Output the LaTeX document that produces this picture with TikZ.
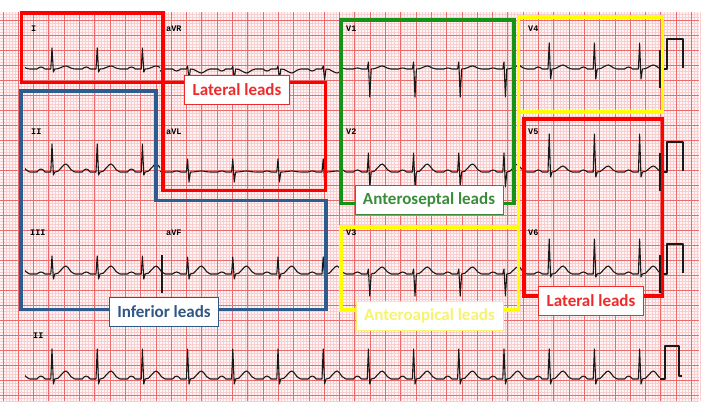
\documentclass[tikz,border=0pt]{standalone}
\usepackage{fontspec}
\setmainfont{Carlito}
\newfontfamily\leadfont{Liberation Mono}
\definecolor{paper}{HTML}{FEF6F6}
\definecolor{gridminor}{HTML}{F8CECE}
\definecolor{gridmajor}{HTML}{EE6A6A}
\definecolor{boxred}{HTML}{FF0000}
\definecolor{boxblue}{HTML}{2F5C8F}
\definecolor{boxgreen}{HTML}{169216}
\definecolor{boxyellow}{HTML}{FFFF00}
\definecolor{txtred}{HTML}{EE2A2A}
\definecolor{txtblue}{HTML}{2F5685}
\definecolor{txtgreen}{HTML}{3A8C3A}
\definecolor{txtyellow}{HTML}{F6F370}

\begin{document}
\begin{tikzpicture}[x=1pt,y=-1pt,
        trace/.style={draw=black!90,line width=1.1pt,line join=round},
        region/.style={line width=3.6pt,line join=miter},
        tag/.style={draw=#1,fill=white,text=#1,line width=0.6pt,
            font=\fontsize{17}{17}\selectfont\bfseries,minimum height=29pt,inner xsep=8pt},
        leadname/.style={anchor=west,inner sep=0pt,font=\leadfont\fontsize{8.5}{8.5}\selectfont\bfseries},
        pics/beat/.style n args={4}{code={
            \draw[trace] (-22.6,0) -- (-15,0) -- (-13,{-0.7*(#1)}) -- (-11,{-(#1)}) -- (-9,{-0.7*(#1)}) -- (-7,0)
                -- (-1.2,0) -- (0,{-(#2)}) -- (1.4,{#3}) -- (2.8,0) -- (6,{-0.1*(#4)}) -- (9,{-0.5*(#4)})
                -- (12,{-0.9*(#4)}) -- (14,{-(#4)}) -- (16,{-0.8*(#4)}) -- (19,{-0.3*(#4)}) -- (22.6,0);}}]
        \useasboundingbox[fill=white] (0,0) rectangle (706,418);
        % ECG paper
        \fill[paper] (0,12) rectangle (699,401);
        \foreach \i in {0,...,228}
            \draw[gridminor,line width=0.45pt] ({3+3.06*\i},12) -- ({3+3.06*\i},401);
        \foreach \j in {-2,...,127}
            \draw[gridminor,line width=0.45pt] (0,{20+3*\j}) -- (699,{20+3*\j});
        \foreach \i in {0,...,45}
            \draw[gridmajor,line width=1pt] ({3+15.3*\i},12) -- ({3+15.3*\i},401);
        \foreach \j in {0,...,25}
            \draw[gridmajor,line width=1pt] (0,{20+15*\j}) -- (699,{20+15*\j});
        % leads: left/right/baseline/P/R/S/T
        \foreach \lx/\rx/\base/\pamp/\ramp/\samp/\tamp in {
                25/160/69/2/21/3/3, 160/340/69/-2/3/11/-4, 340/518/69/1/7/28/3, 518/660/69/2/26/10/4,
                25/160/172/3/28/3/8, 160/340/172/1/13/10/1, 340/518/172/2/19/15/8, 518/660/172/2/38/5/6,
                25/160/274/2/18/5/8, 160/340/274/2/17/5/8, 340/518/274/2/5/22/7, 518/660/274/2/35/3/8,
                25/660/379/3/30/5/8}{
            \begin{scope}
                \clip ({\lx},{\base-45}) rectangle ({\rx},{\base+35});
                \foreach \k in {-1,...,13}
                    \pic at ({52+45.2*\k},\base) {beat={\pamp}{\ramp}{\samp}{\tamp}};
            \end{scope}}
        % lead switch marks
        \foreach \mx/\base in {660/69, 660/172, 660/274, 518/69, 162/274}
            \draw[trace] (\mx,{\base-19}) -- (\mx,{\base+19});
        % calibration pulses
        \foreach \base in {69,172,274}
            \draw[trace] (660,\base) -- (667,\base) -- (667,{\base-30}) -- (683,{\base-30}) -- (683,{\base-1});
        \draw[trace] (660,379) -- (665,379) -- (665,346) -- (679,346) -- (679,376) -- (682,376);
        % lead names
        \foreach \nm/\nx/\ny in {I/31/29, aVR/166/29, V1/346/29, V4/528/29,
                II/31/132, aVL/166/132, V2/346/132, V5/528/132,
                III/30/233, aVF/166/233, V3/346/233, V6/528/233, II/33/336}
            \node[leadname] (n\nm\ny) at (\nx,\ny) {\nm};
        % lead groups
        \draw[region,boxred] (21.5,13) rectangle (163,82.5);
        \draw[region,boxred] (163,82.5) rectangle (325.5,190.5);
        \draw[region,boxblue] (21,91) -- (156,91) -- (156,200.5) -- (326,200.5) -- (326,309.5) -- (21,309.5) -- cycle;
        \draw[region,boxgreen] (341,20) rectangle (514,203.5);
        \draw[region,boxyellow] (518.3,17) rectangle (662.5,112);
        \draw[region,boxyellow] (341,227) rectangle (518.3,310);
        \draw[region,boxyellow] (518.3,112) -- (518.3,227);
        \draw[region,boxred] (523.7,118.7) rectangle (662.5,296);
        % group tags
        \node[tag=txtred] (lateralA) at (237,89.5) {Lateral leads};
        \node[tag=txtblue] (inferior) at (164,311.5) {Inferior leads};
        \node[tag=txtgreen] (anteroseptal) at (429,199.5) {Anteroseptal leads};
        \node[tag=txtyellow] (anteroapical) at (429.5,316) {Anteroapical leads};
        \node[tag=txtred] (lateralB) at (591,300.5) {Lateral leads};
\end{tikzpicture}
\end{document}
